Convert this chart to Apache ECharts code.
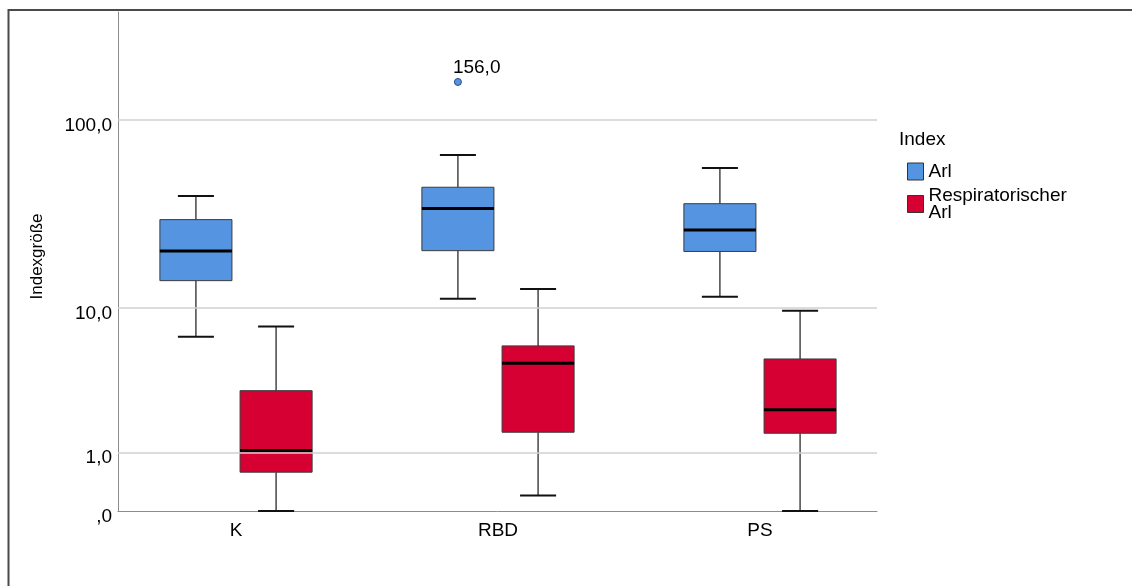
<!DOCTYPE html>
<html><head><meta charset="utf-8">
<script src="https://cdn.jsdelivr.net/npm/echarts@6/dist/echarts.min.js"></script>
<style>html,body{margin:0;padding:0;background:#fff}#c{width:1132px;height:586px}</style>
</head><body><div id="c"></div>
<script>
// ---- data ----
const categories = ['K', 'RBD', 'PS'];
const seriesNames = ['Arl', 'Respiratorischer Arl'];
// [min, Q1, median, Q3, max] per category
const arlStats = [
  [6.8, 14.1, 20.4, 30.0, 40.0],
  [11.2, 20.5, 34.3, 44.4, 65.3],
  [11.5, 20.3, 26.4, 36.4, 55.9]
];
const respStats = [
  [0.0, 0.58, 1.04, 3.13, 7.8],
  [0.2, 1.53, 4.7, 6.0, 12.7],
  [0.0, 1.5, 2.3, 5.0, 9.6]
];
// [category index, value]
const arlOutliers = [[1, 156.0]];
const yTickValues = [0, 1, 10, 100];
const yTickLabels = [',0', '1,0', '10,0', '100,0'];

// ---- style ----
const FONT = "'Liberation Sans', Arial, sans-serif";
const COLORS = ['#5494e0', '#d60032'];
const BOX_OFFSET = [-0.153, 0.153];
const BOX_W = 0.275;

const t = v => Math.log10(v + 1);

function boxData(stats) {
  return stats.map((s, i) => [i].concat(s.map(t)));
}

function makeRender(sIdx) {
  return function (params, api) {
    const cat = api.value(0);
    const step = api.size([1, 0])[0];
    const cx = api.coord([cat, 0])[0] + BOX_OFFSET[sIdx] * step;
    const hw = BOX_W * step / 2;
    const cw = hw / 2;
    const y = i => api.coord([cat, api.value(i)])[1];
    const yMin = y(1), yQ1 = y(2), yMed = y(3), yQ3 = y(4), yMax = y(5);
    const wStyle = { stroke: '#2a2a2a', lineWidth: 1.3 };
    const cStyle = { stroke: '#111', lineWidth: 2 };
    return {
      type: 'group',
      children: [
        { type: 'line', shape: { x1: cx, y1: yMax, x2: cx, y2: yQ3 }, style: wStyle },
        { type: 'line', shape: { x1: cx, y1: yQ1, x2: cx, y2: yMin }, style: wStyle },
        { type: 'line', shape: { x1: cx - cw, y1: yMax, x2: cx + cw, y2: yMax }, style: cStyle },
        { type: 'line', shape: { x1: cx - cw, y1: yMin, x2: cx + cw, y2: yMin }, style: cStyle },
        { type: 'rect', shape: { x: cx - hw, y: yQ3, width: 2 * hw, height: yQ1 - yQ3 },
          style: { fill: COLORS[sIdx], stroke: '#3c3c3c', lineWidth: 1 } },
        { type: 'line', shape: { x1: cx - hw, y1: yMed, x2: cx + hw, y2: yMed },
          style: { stroke: '#000', lineWidth: 3 } }
      ]
    };
  };
}

function renderOutlier(params, api) {
  const cat = api.value(0);
  const step = api.size([1, 0])[0];
  const p = api.coord([cat, api.value(1)]);
  const cx = p[0] + BOX_OFFSET[0] * step;
  const raw = api.value(2);
  return {
    type: 'group',
    children: [
      { type: 'circle', shape: { cx: cx, cy: p[1], r: 3.5 },
        style: { fill: COLORS[0], stroke: '#2b4f86', lineWidth: 1 } },
      { type: 'text', x: cx - 5, y: p[1] - 14,
        style: { text: raw.toFixed(1).replace('.', ','), fill: '#000', font: '19px ' + FONT,
                 align: 'left', verticalAlign: 'middle' } }
    ]
  };
}

const chart = echarts.init(document.getElementById('c'), null, { renderer: 'canvas' });
chart.setOption({
  animation: false,
  backgroundColor: '#fff',
  textStyle: { fontFamily: FONT },
  graphic: [{
    type: 'polyline', silent: true,
    shape: { points: [[8.5, 586], [8.5, 10], [1132, 10]] },
    style: { stroke: '#4a4a4a', lineWidth: 2, fill: null }
  }],
  title: {
    text: 'Index', left: 899, top: 130, padding: 0,
    textStyle: { fontSize: 19, fontWeight: 'normal', color: '#000', fontFamily: FONT }
  },
  legend: {
    orient: 'vertical', left: 907, top: 162, padding: 0, itemGap: 5,
    itemWidth: 16, itemHeight: 17,
    textStyle: { fontSize: 19, color: '#000', lineHeight: 17, fontFamily: FONT },
    formatter: name => name.replace(' ', '\n'),
    data: seriesNames.map((n, i) => ({
      name: n, icon: 'rect',
      itemStyle: { color: COLORS[i], borderColor: '#333', borderWidth: 1 }
    }))
  },
  grid: { left: 118, right: 255, top: 12, bottom: 75 },
  xAxis: {
    type: 'value', min: -0.4504, max: 2.4466,
    axisLine: { show: true, onZero: false, lineStyle: { color: '#8c8c8c', width: 1 } },
    axisTick: { show: false },
    splitLine: { show: false },
    axisLabel: {
      customValues: categories.map((c, i) => i),
      formatter: v => categories[Math.round(v)],
      fontSize: 19, color: '#000', margin: 10, fontFamily: FONT
    }
  },
  yAxis: {
    type: 'value', min: 0, max: 2.554,
    name: 'Indexgröße', nameLocation: 'middle', nameGap: 72, nameRotate: 90,
    nameTextStyle: { fontSize: 17, color: '#000', fontFamily: FONT, padding: [0, 0, 0, 10] },
    axisLine: { show: true, onZero: false, lineStyle: { color: '#8c8c8c', width: 1 } },
    axisTick: { show: false },
    splitLine: { show: false },
    axisLabel: {
      customValues: yTickValues.map(t),
      formatter: v => {
        let best = 0;
        yTickValues.forEach((tv, i) => {
          if (Math.abs(t(tv) - v) < Math.abs(t(yTickValues[best]) - v)) best = i;
        });
        return yTickLabels[best];
      },
      fontSize: 19, color: '#000', margin: 6, verticalAlign: 'top', lineHeight: 12, fontFamily: FONT
    }
  },
  series: [
    {
      type: 'line', data: [], silent: true, z: 1,
      markLine: {
        silent: true, symbol: ['none', 'none'], label: { show: false },
        lineStyle: { type: 'solid', color: '#d0d0d0', width: 1.5 },
        emphasis: { disabled: true },
        data: yTickValues.slice(1).map(v => ({ yAxis: t(v) }))
      }
    },
    {
      name: seriesNames[0], type: 'custom', z: 3,
      renderItem: makeRender(0),
      encode: { x: 0, y: [1, 2, 3, 4, 5] },
      data: boxData(arlStats)
    },
    {
      name: seriesNames[1], type: 'custom', z: 3,
      renderItem: makeRender(1),
      encode: { x: 0, y: [1, 2, 3, 4, 5] },
      data: boxData(respStats)
    },
    {
      name: seriesNames[0], type: 'custom', z: 4,
      renderItem: renderOutlier,
      encode: { x: 0, y: 1 },
      data: arlOutliers.map(o => [o[0], t(o[1]), o[1]])
    }
  ]
});
</script>
</body></html>
